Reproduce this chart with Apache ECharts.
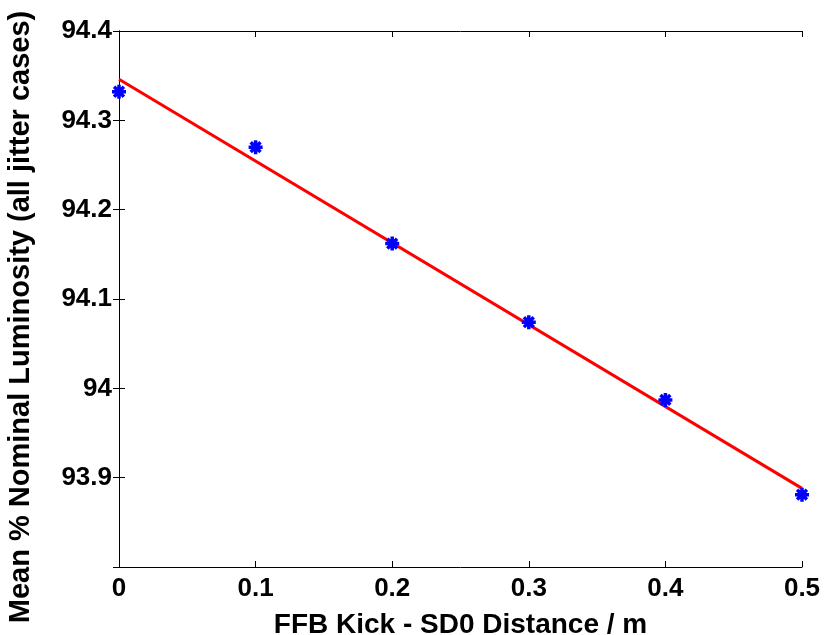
<!DOCTYPE html>
<html>
<head>
<meta charset="utf-8">
<script src="https://cdn.jsdelivr.net/npm/echarts@6/dist/echarts.min.js"></script>
<style>
  html, body { margin: 0; padding: 0; background: #fff; }
  #chart { width: 832px; height: 635px; }
</style>
</head>
<body>
<div id="chart"></div>
<script>
// measured points (blue stars)
const kickDistance = [0, 0.1, 0.2, 0.3, 0.4, 0.5];
const meanLumi = [94.332, 94.270, 94.162, 94.074, 93.987, 93.881];

// linear fit (red line), end points
const fitX = [0, 0.5];
const fitY = [94.346, 93.888];

const yTicks = [93.9, 94, 94.1, 94.2, 94.3, 94.4];

const font = 'Liberation Sans, Arial, sans-serif';
const star = 'path://M0,-10L0,10M-10,0L10,0M-7,-7L7,7M-7,7L7,-7';

const chart = echarts.init(document.getElementById('chart'));

const baseAxisLine = { show: true, lineStyle: { color: '#000', width: 1 } };
const tickIn = { show: true, inside: true, length: 6, lineStyle: { color: '#000' } };

const fmtY = v => {
  const r = Math.round(v * 10) / 10;
  return yTicks.includes(r) ? String(r) : '';
};

chart.setOption({
  animation: false,
  backgroundColor: '#fff',
  grid: { left: 119, right: 30, top: 31, bottom: 68, containLabel: false, outerBoundsMode: 'none' },
  xAxis: [{
    type: 'value', min: 0, max: 0.5, interval: 0.1,
    name: 'FFB Kick - SD0 Distance / m',
    nameLocation: 'middle', nameGap: 44,
    nameTextStyle: { fontFamily: font, fontWeight: 'bold', fontSize: 28, color: '#000' },
    axisLine: baseAxisLine, axisTick: tickIn,
    axisLabel: { fontFamily: font, fontWeight: 'bold', fontSize: 26, color: '#000', margin: 9,
      formatter: v => String(Math.round(v * 10) / 10) },
    splitLine: { show: false }
  }, {
    type: 'value', min: 0, max: 0.5, interval: 0.1, position: 'top',
    axisLine: baseAxisLine, axisTick: tickIn, axisLabel: { show: false }, splitLine: { show: false }
  }],
  yAxis: [{
    type: 'value', min: 93.8, max: 94.4, interval: 0.1,
    name: 'Mean % Nominal Luminosity (all jitter cases)',
    nameLocation: 'middle', nameGap: 84,
    nameTextStyle: { fontFamily: font, fontWeight: 'bold', fontSize: 29, color: '#000',
      padding: [0, 36, 0, 0] },
    axisLine: baseAxisLine, axisTick: tickIn,
    axisLabel: { fontFamily: font, fontWeight: 'bold', fontSize: 26, color: '#000', margin: 7,
      formatter: fmtY },
    splitLine: { show: false }
  }, {
    type: 'value', min: 93.8, max: 94.4, interval: 0.1, position: 'right',
    axisLine: baseAxisLine, axisTick: tickIn, axisLabel: { show: false }, splitLine: { show: false }
  }],
  series: [{
    type: 'line',
    data: fitX.map((x, i) => [x, fitY[i]]),
    showSymbol: false,
    lineStyle: { color: '#ff0000', width: 3 },
    z: 2
  }, {
    type: 'scatter',
    data: kickDistance.map((x, i) => [x, meanLumi[i]]),
    symbol: star,
    symbolSize: 14,
    itemStyle: { color: 'rgba(0,0,0,0)', borderColor: '#0000ff', borderWidth: 3.5, opacity: 1 },
    z: 3
  }]
});
</script>
</body>
</html>
